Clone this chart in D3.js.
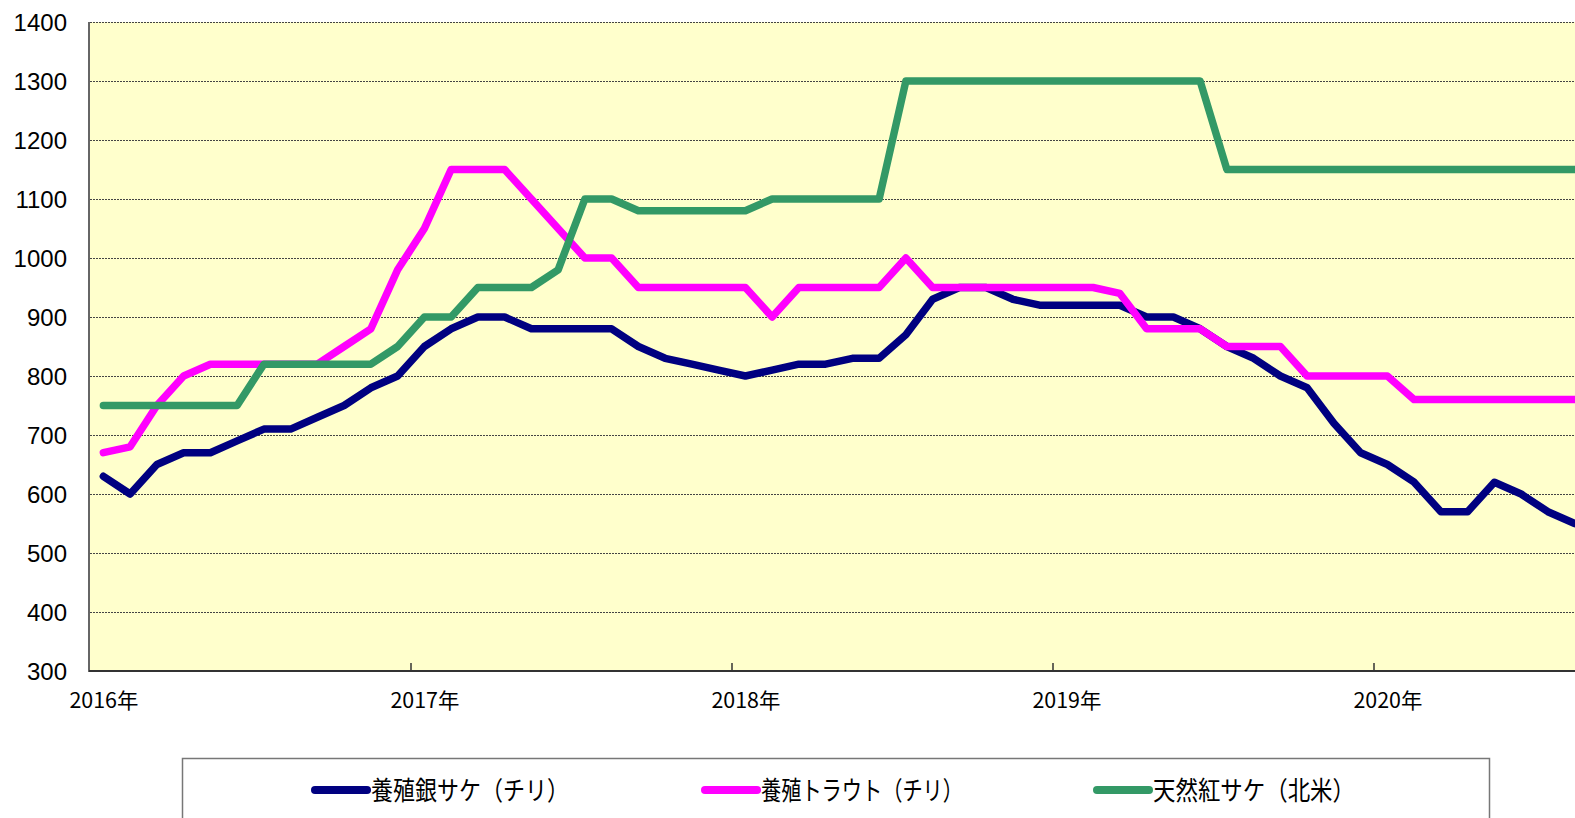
<!doctype html>
<html lang="ja">
<head>
<meta charset="utf-8">
<title>サケ・マス価格</title>
<style>
  body { margin: 0; background: #fff; }
  svg { display: block; }
  .grid line { stroke: #444; stroke-dasharray: 2,1; stroke-width: 1; }
  .ylab { font-family: "Liberation Sans", Arial, sans-serif; font-size: 24px; fill: #000; }
  .xlab { font-family: "Noto Sans CJK JP", sans-serif; font-size: 21px; fill: #000; }
  .leg { font-family: "Noto Sans CJK JP", sans-serif; font-size: 26px; fill: #000; }
</style>
</head>
<body>
<div id="chart"></div>
<script src="https://cdn.jsdelivr.net/npm/d3@7"></script>
<script>
// monthly prices, Jan 2016 onward
var yearLabels = ["2016年", "2017年", "2018年", "2019年", "2020年"];
var yTicks = [300, 400, 500, 600, 700, 800, 900, 1000, 1100, 1200, 1300, 1400];

var silver = [630, 600, 650, 670, 670, 690, 710, 710, 730, 750, 780, 800,
              850, 880, 900, 900, 880, 880, 880, 880, 850, 830, 820, 810,
              800, 810, 820, 820, 830, 830, 870, 930, 950, 950, 930, 920,
              920, 920, 920, 900, 900, 880, 850, 830, 800, 780, 720, 670,
              650, 620, 570, 570, 620, 600, 570, 550];
var trout = [670, 680, 750, 800, 820, 820, 820, 820, 820, 850, 880, 980,
             1050, 1150, 1150, 1150, 1100, 1050, 1000, 1000, 950, 950, 950, 950,
             950, 900, 950, 950, 950, 950, 1000, 950, 950, 950, 950, 950,
             950, 950, 940, 880, 880, 880, 850, 850, 850, 800, 800, 800,
             800, 760, 760, 760, 760, 760, 760, 760];
var sockeye = [750, 750, 750, 750, 750, 750, 820, 820, 820, 820, 820, 850,
               900, 900, 950, 950, 950, 980, 1100, 1100, 1080, 1080, 1080, 1080,
               1080, 1100, 1100, 1100, 1100, 1100, 1300, 1300, 1300, 1300, 1300, 1300,
               1300, 1300, 1300, 1300, 1300, 1300, 1150, 1150, 1150, 1150, 1150, 1150,
               1150, 1150, 1150, 1150, 1150, 1150, 1150, 1150];

var seriesNames = ["養殖銀サケ（チリ）", "養殖トラウト（チリ）", "天然紅サケ（北米）"];
var seriesColors = ["#000080", "#ff00ff", "#339966"];

(function(){
  var width = 1575, height = 818;
  var left = 90, top = 22, bottom = 671;
  var monthW = 26.75;

  var months = d3.range(silver.length);
  var x = d3.scaleBand().domain(months).range([left, left + months.length * monthW]);
  var y = d3.scaleLinear().domain([300, 1400]).range([bottom, top]);

  var svg = d3.select("#chart").append("svg")
      .attr("width", width).attr("height", height);

  // plot background
  svg.append("rect")
      .attr("x", left).attr("y", top)
      .attr("width", x.range()[1] - left).attr("height", bottom - top)
      .attr("fill", "#ffffcc");

  svg.append("g").attr("class", "grid")
    .selectAll("line").data(yTicks.filter(function(d){ return d > 300; }))
    .enter().append("line")
      .attr("x1", left).attr("x2", x.range()[1])
      .attr("y1", function(d){ return y(d) + 0.5; })
      .attr("y2", function(d){ return y(d) + 0.5; });

  // y labels
  svg.append("g").selectAll("text").data(yTicks).enter().append("text")
      .attr("class", "ylab")
      .attr("x", 67).attr("y", function(d){ return y(d); })
      .attr("dy", "0.36em").attr("text-anchor", "end")
      .text(function(d){ return d; });

  // year ticks and labels
  var yearStarts = yearLabels.map(function(d, i){ return i * 12; });
  svg.append("g").selectAll("line").data(yearStarts.slice(1)).enter().append("line")
      .attr("x1", function(d){ return x(d); }).attr("x2", function(d){ return x(d); })
      .attr("y1", bottom).attr("y2", bottom - 8)
      .attr("stroke", "#333").attr("stroke-width", 1.5);

  svg.append("g").selectAll("text").data(yearLabels).enter().append("text")
      .attr("class", "xlab")
      .attr("x", function(d, i){ return x(yearStarts[i]) + x.bandwidth() / 2 - 34; })
      .attr("y", 708)
      .attr("textLength", 69).attr("lengthAdjust", "spacingAndGlyphs")
      .text(function(d){ return d; });

  var line = d3.line()
      .x(function(d, i){ return x(i) + x.bandwidth() / 2; })
      .y(function(d){ return y(d); });

  [silver, trout, sockeye].forEach(function(s, k){
    svg.append("path").datum(s)
      .attr("d", line)
      .attr("fill", "none")
      .attr("stroke", seriesColors[k])
      .attr("stroke-width", 7.5)
      .attr("stroke-linejoin", "round")
      .attr("stroke-linecap", "round");
  });

  // axes
  svg.append("line").attr("x1", left - 1).attr("x2", left - 1)
      .attr("y1", top).attr("y2", bottom + 1)
      .attr("stroke", "#666").attr("stroke-width", 2);
  svg.append("line").attr("x1", left - 1).attr("x2", width)
      .attr("y1", bottom).attr("y2", bottom)
      .attr("stroke", "#333").attr("stroke-width", 2);

  // legend
  var leg = svg.append("g");
  leg.append("rect")
      .attr("x", 182.5).attr("y", 758.5).attr("width", 1307).attr("height", 80)
      .attr("fill", "#fff").attr("stroke", "#777").attr("stroke-width", 1.5);
  var legX = [315, 705, 1097];
  seriesNames.forEach(function(name, k){
    leg.append("line")
      .attr("x1", legX[k]).attr("x2", legX[k] + 52)
      .attr("y1", 790).attr("y2", 790)
      .attr("stroke", seriesColors[k]).attr("stroke-width", 8)
      .attr("stroke-linecap", "round");
    leg.append("text").attr("class", "leg")
      .attr("x", legX[k] + 56).attr("y", 791).attr("dy", "0.36em")
      .attr("textLength", k === 0 ? 198 : 202).attr("lengthAdjust", "spacingAndGlyphs")
      .text(name);
  });
})();
</script>
</body>
</html>
